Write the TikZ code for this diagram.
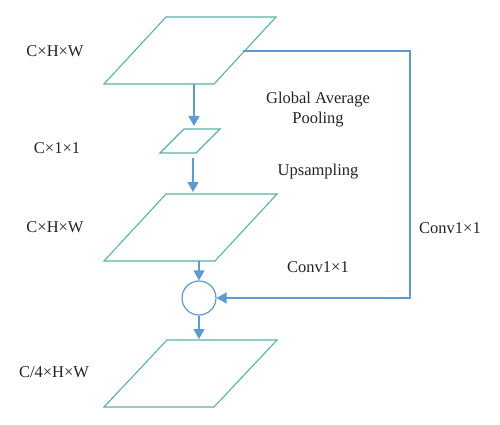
\documentclass[tikz,border=0pt]{standalone}
\usepackage{fontspec}
\setmainfont{Liberation Serif}
\usetikzlibrary{arrows.meta,positioning}
\definecolor{plane}{RGB}{86,178,168}
\definecolor{link}{RGB}{91,155,213}
\definecolor{ink}{RGB}{35,35,35}
\tikzset{
  every picture/.style={line width=1.2pt, font=\fontsize{16.5}{20}\selectfont},
  fmap/.style={draw=plane, line width=1.1pt, line join=miter},
  flow/.style={-{Triangle[length=10pt,width=11pt]}, draw=link, color=link},
  sumnode/.style={circle, draw=link, minimum size=34pt, inner sep=0pt},
  dimlbl/.style={text=ink, inner sep=1pt},
  oplbl/.style={text=ink, inner sep=1pt, align=center},
}
% parallelogram: bottom-left corner, width, slant, height
\newcommand{\featmap}[5]{%
  \draw[fmap] (#2) -- ++(#3,0) -- ++(#4,-#5) -- ++(-#3,0) -- cycle;
  \coordinate (#1) at (#2);}

\begin{document}
\begin{tikzpicture}[x=1pt,y=-1pt]
  \useasboundingbox (0,0) rectangle (500,425);
  % feature maps
  \featmap{inmap}{104,84}{110}{62}{67}
  \featmap{gapmap}{160,153}{36}{24}{24}
  \featmap{upmap}{104,261}{111}{62}{67}
  \featmap{outmap}{104,407}{110}{63}{67}
  \node[sumnode] (add) at (199,298) {};
  % arrow ends
  \coordinate (inB) at (194,84);
  \coordinate (gapT) at (194,126);
  \coordinate (gapB) at (193,158);
  \coordinate (upT) at (193,192);
  \coordinate (upB) at (199,261);
  \coordinate (outT) at (199,339);
  \coordinate (skip) at (243,51);
  \coordinate (corner) at (410,51);
  \draw[flow] (inB) -- (gapT);
  \draw[flow] (gapB) -- (upT);
  \draw[flow] (upB) -- (add.north);
  \draw[flow] (add.south) -- (outT);
  \draw[flow] (skip) -- (corner) |- (add.east);
  % sizes
  \node[dimlbl] (d1) at (55,51) {C×H×W};
  \node[dimlbl] (d2) at (57,148) {C×1×1};
  \node[dimlbl] (d3) at (55,227) {C×H×W};
  \node[dimlbl] (d4) at (54,372) {C/4×H×W};
  % operations
  \node[oplbl] (gap) at (318,110) {Global Average\\Pooling};
  \node[oplbl] (ups) at (318,172) {Upsampling};
  \node[oplbl] (conv) at (318,267) {Conv1×1};
  \node[oplbl] (convr) at (450,228) {Conv1×1};
\end{tikzpicture}
\end{document}
